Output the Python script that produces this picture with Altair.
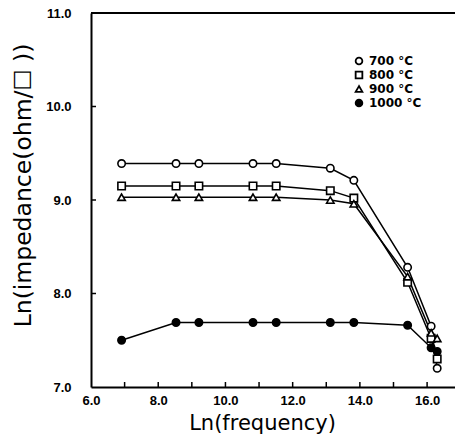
import altair as alt
import pandas as pd

freq = [6.91, 8.53, 9.21, 10.82, 11.51, 13.12, 13.82, 15.42, 16.12, 16.30]
series_names = ["700 °C", "800 °C", "900 °C", "1000 °C"]
imp_700 = [9.39, 9.39, 9.39, 9.39, 9.39, 9.34, 9.21, 8.28, 7.65, 7.20]
imp_800 = [9.15, 9.15, 9.15, 9.15, 9.15, 9.10, 9.02, 8.12, 7.52, 7.30]
imp_900 = [9.03, 9.03, 9.03, 9.03, 9.03, 9.00, 8.96, 8.18, 7.58, 7.52]
imp_1000 = [7.50, 7.69, 7.69, 7.69, 7.69, 7.69, 7.69, 7.66, 7.42, 7.38]
x_tick_values = [7, 8, 9, 10, 11, 12, 13, 14, 15, 16]
y_tick_values = [8, 9, 10]

rows = []
for name, vals in zip(series_names, [imp_700, imp_800, imp_900, imp_1000]):
    for f, v in zip(freq, vals):
        rows.append({"series": name, "freq": f, "imp": v})
df = pd.DataFrame(rows)

W, H = 364, 374
xscale = alt.Scale(domain=[6, 16.83], nice=False, zero=False)
yscale = alt.Scale(domain=[7, 11], nice=False, zero=False)

xaxis = alt.Axis(
    values=[6, 8, 10, 12, 14, 16], format=".1f", ticks=False, grid=False,
    labelFont="Liberation Sans", labelFontWeight="bold", labelFontSize=13,
    labelColor="black", labelPadding=7, domainColor="black", domainWidth=2,
    title="Ln(frequency)", titleFont="DejaVu Sans", titleFontWeight="normal",
    titleFontSize=21, titleColor="black", titleX=171, titleY=25,
    titleBaseline="top", labelFlush=False,
)
yaxis = alt.Axis(
    values=[7, 8, 9, 10, 11], format=".1f", ticks=False, grid=False,
    labelFont="Liberation Sans", labelFontWeight="bold", labelFontSize=13,
    labelColor="black", labelPadding=20, domainColor="black", domainWidth=2,
    title="Ln(impedance(ohm/\u2610 ))", titleFont="DejaVu Sans", titleFontWeight="normal",
    titleFontSize=23.5, titleColor="black", titleX=-68, titleY=172,
    titleAngle=270, titleBaseline="middle", labelFlush=False,
)

sort_order = series_names
legend_kw = dict(title=None, orient="none", legendX=262, legendY=42,
                 labelFont="DejaVu Sans", labelFontSize=12, labelFontWeight="bold",
                 labelColor="black", symbolSize=45, symbolStrokeWidth=1.8,
                 rowPadding=0, padding=0, labelOffset=4,
                 labelExpr="length(datum.label) < 7 ? '\u2007' + datum.label : datum.label")

lines = alt.Chart(df).mark_line(color="black", strokeWidth=1.5).encode(
    x=alt.X("freq:Q", scale=xscale, axis=xaxis),
    y=alt.Y("imp:Q", scale=yscale, axis=yaxis),
    detail="series:N",
)

points = alt.Chart(df).mark_point(filled=True, size=55, stroke="black", strokeWidth=1.6, opacity=1).encode(
    x=alt.X("freq:Q", scale=xscale),
    y=alt.Y("imp:Q", scale=yscale),
    shape=alt.Shape("series:N", sort=sort_order,
                    scale=alt.Scale(domain=series_names, range=["circle", "square", "triangle-up", "circle"]),
                    legend=alt.Legend(**legend_kw)),
    fill=alt.Fill("series:N", sort=sort_order,
                  scale=alt.Scale(domain=series_names, range=["white", "white", "white", "black"]),
                  legend=alt.Legend(**legend_kw)),
)

xticks = alt.Chart(pd.DataFrame({"t": x_tick_values})).mark_rule(color="black", strokeWidth=1.5).encode(
    x=alt.X("t:Q", scale=xscale),
    y=alt.value(H),
    y2=alt.value(H - 5),
)
yticks = alt.Chart(pd.DataFrame({"t": y_tick_values})).mark_rule(color="black", strokeWidth=1.5).encode(
    y=alt.Y("t:Q", scale=yscale),
    x=alt.value(0),
    x2=alt.value(5),
)
top_border = alt.Chart(pd.DataFrame({"a": [0]})).mark_rule(color="black", strokeWidth=2).encode(
    x=alt.value(0), x2=alt.value(W), y=alt.value(0),
)

chart = alt.layer(lines, points, xticks, yticks, top_border).properties(
    width=W, height=H,
    autosize=alt.AutoSizeParams(type="none"),
    padding={"left": 91, "top": 13, "right": 0, "bottom": 58},
    background="white",
).configure_view(stroke=None)

chart.save("out.html", embed_options={"renderer": "svg", "actions": False})
